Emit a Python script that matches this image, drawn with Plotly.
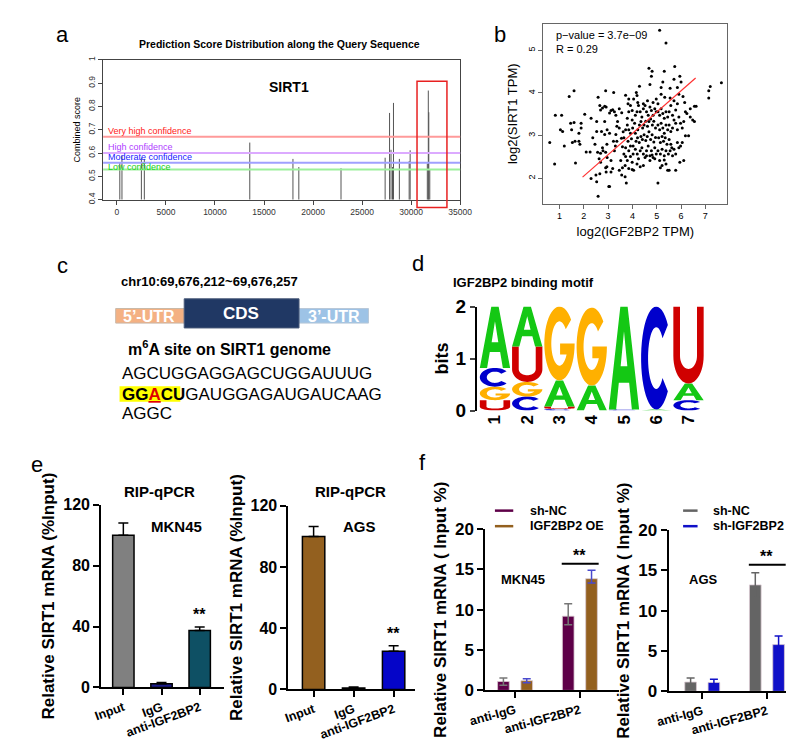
import numpy as np
import plotly.graph_objects as go

# ---- panel a: RMBase-like prediction scores along SIRT1
site_pos = [300, 520, 2500, 2800, 13550, 17950, 18550, 22850, 27350, 27800, 27950, 28100,
            28200, 28800, 29800, 29900, 31650, 31750, 31800, 31900]
site_score = [0.56, 0.59, 0.58, 0.575, 0.645, 0.575, 0.54, 0.535, 0.58, 0.772, 0.614, 0.54,
              0.815, 0.575, 0.565, 0.612, 0.555, 0.868, 0.775, 0.53]
conf_names = ['Very high confidence', 'High confidence', 'Moderate confidence', 'Low confidence']
conf_levels = [0.67, 0.60, 0.558, 0.53]
conf_label_y = [0.696, 0.625, 0.583, 0.542]
conf_colors = ['#ff9a9a', '#dcaaff', '#a0a0ff', '#9cf09c']
conf_text_colors = ['#ff2020', '#b040ff', '#2020ff', '#20d020']

# ---- panel b: correlation scatter
igf2bp2_tpm = [5.12, 5.38, 4.68, 4.81, 5.31, 5.74, 5.95, 4.78, 5.71, 6.0, 4.29, 4.72, 5.25, 7.66, 7.2,
               7.14, 7.14, 1.6, 1.4, 2.9, 3.23, 2.59, 3.72, 4.16, 4.19, 5.18, 5.55, 5.85, 5.91, 6.08,
               6.15, 6.55, 6.62, 6.38,
               0.83, 1.09, 0.6, 0.8, 1.04, 1.13, 1.2, 1.46, 1.6, 1.5, 1.8, 1.89, 1.89, 1.8, 1.53, 1.64,
               1.84, 1.66, 2.04, 2.3, 2.1, 2.26, 2.37, 2.3, 2.53, 2.5, 2.53, 2.53, 2.46, 2.57, 2.59, 2.69,
               2.63, 2.73, 2.77, 2.79, 2.66, 2.69,
               2.66, 2.69, 2.77, 2.86, 2.92, 3.06, 3.12, 3.19, 3.26, 3.32, 3.46, 3.56, 2.86, 2.96, 2.86,
               3.06, 2.95, 2.9, 2.96, 2.9, 2.95, 2.92, 3.03, 3.06, 3.12, 3.19, 3.12, 3.26, 3.3, 3.22,
               3.36, 3.32, 3.36, 3.46, 3.39, 3.52, 3.46, 3.56, 3.7, 3.75, 3.59, 3.7, 3.65, 3.72, 3.65,
               3.72, 3.79, 3.79, 3.85, 3.92, 3.82, 3.85, 3.99, 3.85, 3.92, 3.82, 3.92, 3.85, 3.92, 3.79,
               3.99, 3.85, 3.99, 3.72, 3.59, 3.55, 3.62, 3.99, 4.01, 3.96, 4.03, 4.03, 4.05,
               4.09, 4.12, 4.19, 4.25, 4.32, 4.39, 4.45, 4.52, 4.58, 4.65, 4.72, 4.78, 4.85, 4.92, 4.98,
               4.12, 4.22, 4.29, 4.35, 4.42, 4.48, 4.55, 4.62, 4.68, 4.75, 4.82, 4.88, 4.95,
               4.15, 4.21, 4.28, 4.35, 4.41, 4.48, 4.55, 4.61, 4.68, 4.75, 4.81, 4.88, 4.95,
               4.12, 4.2, 4.25, 4.32, 4.39, 4.45, 4.52, 4.58, 4.65, 4.72, 4.78, 4.85, 4.92, 4.98,
               4.19, 4.32, 4.45, 4.58, 4.72, 4.81, 4.92, 4.05, 4.22, 4.45, 4.62, 4.85, 4.98, 5.05,
               5.05, 5.12, 5.18, 5.25, 5.31, 5.38, 5.45, 5.51, 5.58, 5.65, 5.71,
               5.05, 5.12, 5.18, 5.25, 5.31, 5.38, 5.45, 5.51, 5.58, 5.65,
               5.08, 5.15, 5.22, 5.28, 5.35, 5.42, 5.51, 5.58,
               5.05, 5.15, 5.22, 5.31, 5.38, 5.48, 5.55, 5.62,
               5.12, 5.22, 5.31, 5.38, 5.45, 5.51, 5.78, 5.05, 5.15,
               5.78, 5.85, 5.91, 5.98, 6.05, 6.11, 6.18, 6.24, 5.85, 5.91, 5.98, 6.05, 6.11, 5.95,
               6.18, 6.31, 6.48, 6.55, 6.38, 5.78, 5.85, 5.71, 5.55, 5.33, 5.18, 5.71, 5.78, 5.65]
sirt1_tpm = [5.47, 5.17, 4.58, 4.51, 4.51, 4.62, 4.39, 4.39, 4.32, 4.26, 4.16, 4.2, 4.26, 4.24, 4.15,
             4.05, 3.88, 4.05, 3.92, 4.05, 4.01, 3.9, 3.95, 4.01, 3.94, 4.13, 4.11, 4.13, 3.97, 3.92,
             3.78, 3.69, 3.69, 3.63,
             3.48, 3.48, 2.84, 2.34, 3.14, 3.1, 2.76, 3.29, 3.31, 3.14, 3.06, 3.29, 3.18, 2.87, 2.84, 2.87,
             2.8, 2.36, 3.5, 3.41, 2.62, 2.62, 2.95, 2.0, 1.92, 2.08, 3.33, 3.1, 2.8, 2.61, 1.58, 2.59,
             2.46, 3.1, 2.72, 2.65, 2.11, 2.38,
             3.71, 3.6, 3.65, 3.69, 3.67, 3.53, 3.59, 3.61, 3.56, 3.48, 3.63, 3.54, 3.33, 3.14, 3.03,
             3.06, 2.8, 2.61, 2.49, 2.25, 2.27, 2.15, 1.81, 1.81, 2.42, 2.23, 2.15, 2.65, 2.76, 2.87,
             2.87, 3.03, 3.22, 3.18, 3.33, 2.42, 2.19, 2.08, 2.04, 1.89, 2.25, 2.3, 2.57, 2.72, 2.95,
             3.14, 3.25, 3.41, 3.56, 3.71, 3.75, 3.86, 3.59, 3.14, 3.06, 2.87, 2.76, 2.65, 2.51, 2.42,
             2.38, 2.23, 2.21, 2.51, 2.74, 2.94, 3.09, 3.37, 3.18, 2.93, 2.76, 2.57, 2.19,
             3.29, 3.48, 3.56, 3.71, 3.56, 3.44, 3.63, 3.71, 3.56, 3.48, 3.67, 3.59, 3.48, 3.63, 3.56,
             3.06, 3.14, 3.25, 3.33, 3.18, 3.25, 3.34, 3.22, 3.33, 3.39, 3.25, 3.34, 3.18,
             2.87, 2.95, 2.84, 2.98, 2.91, 3.02, 2.89, 2.98, 3.09, 2.91, 3.02, 2.85, 2.96,
             2.68, 2.57, 2.46, 2.65, 2.72, 2.57, 2.49, 2.65, 2.76, 2.53, 2.65, 2.49, 2.72, 2.57,
             2.34, 2.27, 2.3, 2.53, 2.42, 2.55, 2.46, 3.86, 3.78, 3.75, 3.82, 3.78, 3.86, 3.75,
             3.56, 3.48, 3.63, 3.52, 3.41, 3.56, 3.44, 3.56, 3.71, 3.48, 3.37,
             3.25, 3.14, 3.29, 3.18, 3.06, 3.25, 3.14, 3.25, 3.1, 3.18,
             2.95, 2.84, 2.98, 2.87, 2.95, 2.8, 2.91, 2.8,
             2.65, 2.57, 2.68, 2.53, 2.65, 2.57, 2.65, 2.72,
             2.42, 2.3, 2.43, 2.34, 2.19, 2.19, 2.19, 1.89, 2.25,
             3.29, 3.14, 3.44, 3.29, 3.18, 3.33, 3.56, 3.52, 2.84, 2.72, 2.76, 2.84, 2.42, 2.38,
             3.0, 3.0, 3.37, 3.33, 3.44, 3.6, 3.75, 3.82, 3.88, 3.9, 3.97, 2.68, 2.57, 2.53]
fit_x = [1.95, 6.6]
fit_y = [2.03, 4.35]

# ---- panel d: IGF2BP2 motif (bottom to top per position)
motif_letters = [['U', 'G', 'C', 'A'], ['C', 'G', 'U', 'A'], ['C', 'U', 'A', 'G'], ['A', 'G'],
                 ['C', 'A'], ['A', 'C'], ['C', 'A', 'U']]
motif_bits = [[0.2, 0.26, 0.36, 1.18], [0.27, 0.28, 0.68, 0.77], [0.03, 0.05, 0.5, 1.42], [0.48, 1.5],
              [0.02, 1.98], [0.02, 1.98], [0.2, 0.32, 1.48]]
letter_colors = {'A': '#14c814', 'C': '#0000cc', 'G': '#ffb000', 'U': '#d00000'}

# ---- panel e: RIP-qPCR
rip_groups = ['Input', 'IgG', 'anti-IGF2BP2']
rip_mkn45 = [100, 2.5, 37.5]
rip_mkn45_err = [8, 0.8, 2.3]
rip_ags = [100, 1.0, 25]
rip_ags_err = [6.5, 0.6, 3.5]

# ---- panel f
f_groups = ['anti-IgG', 'anti-IGF2BP2']
f_left_names = ['sh-NC', 'IGF2BP2 OE']
f_left_vals = [[1.1, 9.2], [1.2, 13.85]]
f_left_up = [[0.45, 1.55], [0.25, 1.05]]
f_left_down = [[0.45, 1.05], [0.25, 0.55]]
f_right_names = ['sh-NC', 'sh-IGF2BP2']
f_right_vals = [[1.15, 13.2], [1.1, 5.8]]
f_right_up = [[0.5, 1.5], [0.4, 1.05]]
f_right_down = [[0.5, 1.5], [0.4, 1.05]]

W, H = 800, 741
FONT = 'Arial, Liberation Sans, sans-serif'


def px(x):
    return x / W


def py(y):
    return 1 - y / H


fig = go.Figure()
shapes = []
ann = []


def label(x, y, text, size=12, bold=False, color='black', xanchor='center', angle=0, **kw):
    a = dict(x=px(x), y=py(y), xref='paper', yref='paper', text=text, showarrow=False,
             xanchor=xanchor, yanchor='middle', textangle=angle,
             font=dict(size=size, color=color, family=FONT, weight='bold' if bold else 'normal'))
    a.update(kw)
    ann.append(a)


# panel letters
for (lx, ly, t) in [(40, 17, 'a'), (493, 17, 'b'), (40, 255, 'c'), (408, 253, 'd'), (13, 460, 'e'),
                    (413, 457, 'f')]:
    label(lx, ly, t, size=22)

# ---------------- panel a
sx, sy = [], []
for p, s in zip(site_pos, site_score):
    sx += [p, p, None]
    sy += [0.4, s, None]
fig.add_trace(go.Scatter(x=sx, y=sy, mode='lines', line=dict(color='#555', width=1),
                         xaxis='x', yaxis='y', hoverinfo='skip'))
for lvl, ly, nm, c, tc in zip(conf_levels, conf_label_y, conf_names, conf_colors, conf_text_colors):
    shapes.append(dict(type='line', xref='x domain', yref='y', x0=0, x1=1, y0=lvl, y1=lvl,
                       line=dict(color=c, width=2)))
    ann.append(dict(x=-1100, y=ly, xref='x', yref='y', text=nm, showarrow=False, xanchor='left',
                    font=dict(size=9, color=tc, family='Liberation Sans Narrow, Arial Narrow, ' + FONT)))
ann.append(dict(x=17500, y=0.883, xref='x', yref='y', text='<b>SIRT1</b>', showarrow=False,
                font=dict(size=14, family=FONT)))
shapes.append(dict(type='rect', xref='x', yref='paper', x0=30600, x1=33650, y0=py(195), y1=py(65),
                   line=dict(color='#e82020', width=1.5)))
label(265, 27, 'Prediction Score Distribution along the Query Sequence', size=10.5, bold=True)

# ---------------- panel b
fig.add_trace(go.Scatter(x=igf2bp2_tpm, y=sirt1_tpm, mode='markers',
                         marker=dict(color='black', size=3), xaxis='x2', yaxis='y2'))
fig.add_trace(go.Scatter(x=fit_x, y=fit_y, mode='lines', line=dict(color='#ff3030', width=1.2),
                         xaxis='x2', yaxis='y2'))
ann.append(dict(x=0.06, y=0.985, xref='x2 domain', yref='y2 domain', xanchor='left', yanchor='top',
                showarrow=False, align='left', text='p\u2212value = 3.7e\u221209<br>R = 0.29',
                font=dict(size=11, family=FONT)))

# ---------------- panel c
label(98, 271, 'chr10:69,676,212~69,676,257', size=13, bold=True, xanchor='left')
shapes.append(dict(type='rect', xref='paper', yref='paper', x0=px(95), x1=px(166), y0=py(314), y1=py(299),
                   fillcolor='#f4b183', line=dict(color='#c9b8a8', width=1)))
shapes.append(dict(type='rect', xref='paper', yref='paper', x0=px(285), x1=px(357), y0=py(314), y1=py(299),
                   fillcolor='#9dc3e6', line=dict(color='#b8c8d8', width=1)))
shapes.append(dict(type='rect', xref='paper', yref='paper', x0=px(166), x1=px(285), y0=py(319), y1=py(289),
                   fillcolor='#203864', line=dict(color='#4a5a7a', width=1)))
label(130, 307, '5\u2019-UTR', size=16, bold=True, color='white')
label(225, 304, 'CDS', size=17, bold=True, color='white')
label(321, 307, '3\u2019-UTR', size=16, bold=True, color='white')
label(213, 340, 'm<sup>6</sup>A site on SIRT1 genome', size=16, bold=True)
shapes.append(dict(type='rect', xref='paper', yref='paper', x0=px(99), x1=px(162), y0=py(395), y1=py(379),
                   fillcolor='#ffff00', line=dict(width=0), layer='below'))
label(99, 366, 'AGCUGGAGGAGCUGGAUUUG', size=17, xanchor='left')
label(99, 387, "<b>GG<span style='color:#e00000;text-decoration:underline'>A</span>CU</b>GAUGGAGAUGAUCAAG",
      size=17, xanchor='left')
label(99, 407, 'AGGC', size=17, xanchor='left')

# ---------------- panel d: sequence logo drawn as glyph paths
def glyph(letter):
    """Outline polygons of a letter in the unit square."""
    if letter == 'A':
        return [[(0, 0), (0.38, 1), (0.62, 1), (1, 0), (0.76, 0), (0.67, 0.26), (0.33, 0.26), (0.24, 0)],
                [(0.39, 0.42), (0.61, 0.42), (0.5, 0.76)]]
    if letter == 'U':
        t = np.linspace(np.pi, 2 * np.pi, 25)
        outer = [(0.5 + 0.5 * np.cos(a), 0.36 + 0.36 * np.sin(a)) for a in t]
        inner = [(0.5 + 0.28 * np.cos(a), 0.36 + 0.17 * np.sin(a)) for a in t[::-1]]
        return [[(0, 1)] + outer + [(1, 1), (0.78, 1)] + inner + [(0.22, 1)]]
    if letter == 'C':
        t = np.radians(np.linspace(40, 320, 40))
        outer = [(0.5 + 0.5 * np.cos(a), 0.5 + 0.5 * np.sin(a)) for a in t]
        inner = [(0.5 + 0.27 * np.cos(a), 0.5 + 0.3 * np.sin(a)) for a in t[::-1]]
        return [outer + inner]
    t = np.radians(np.linspace(40, 360, 44))
    outer = [(0.5 + 0.5 * np.cos(a), 0.5 + 0.5 * np.sin(a)) for a in t]
    ti = np.radians(np.linspace(330, 40, 40))
    inner = [(0.5 + 0.27 * np.cos(a), 0.5 + 0.3 * np.sin(a)) for a in ti]
    return [outer + [(0.52, 0.5), (0.52, 0.35)] + inner]


for i, (letters, bits) in enumerate(zip(motif_letters, motif_bits)):
    xc = i + 1
    base = 0.0
    for let, h in zip(letters, bits):
        path = ''
        for poly in glyph(let):
            pts = [(xc - 0.47 + 0.94 * u, base + h * v) for u, v in poly]
            path += 'M' + 'L'.join(f'{a:.4f},{b:.4f}' for a, b in pts) + 'Z'
        shapes.append(dict(type='path', xref='x3', yref='y3', path=path, fillcolor=letter_colors[let],
                           fillrule='evenodd', line=dict(width=0)))
        base += h
fig.add_trace(go.Scatter(x=[1, 7], y=[0, 0], mode='markers', marker=dict(opacity=0),
                         xaxis='x3', yaxis='y3', hoverinfo='skip'))
label(443, 272, 'IGF2BP2 binding motif', size=13, bold=True, xanchor='left')

# ---------------- panel e
e_colors_mkn = ['#808080', '#1c1c8a', '#0e5064']
e_colors_ags = ['#93601f', '#1c1c8a', '#0505c8']
for ax, vals, errs, cols in [('4', rip_mkn45, rip_mkn45_err, e_colors_mkn),
                             ('5', rip_ags, rip_ags_err, e_colors_ags)]:
    fig.add_trace(go.Bar(x=[0, 1, 2], y=vals, width=0.56, marker=dict(color=cols, line=dict(color='black', width=1.5)),
                         error_y=dict(type='data', array=errs, arrayminus=[0, 0, 0], symmetric=False,
                                      color='black', thickness=1.5, width=5),
                         xaxis='x' + ax, yaxis='y' + ax))
    ann.append(dict(x=2, y=vals[2] + errs[2], xref='x' + ax, yref='y' + ax, text='<b>**</b>', showarrow=False,
                    yanchor='bottom', yshift=2, font=dict(size=16, family=FONT)))
label(140, 487, 'RIP-qPCR', size=15, bold=True)
label(338, 487, 'RIP-qPCR', size=15, bold=True)
label(158, 523, 'MKN45', size=15, bold=True)
label(348, 523, 'AGS', size=15, bold=True)

# ---------------- panel f
f_sets = [('6', f_left_names, f_left_vals, f_left_up, f_left_down, ['#5e0048', '#93601f'], ['#777777', '#4a4acd']),
          ('7', f_right_names, f_right_vals, f_right_up, f_right_down, ['#646464', '#1010c8'], ['#646464', '#1010c8'])]
for ax, names, vals, up, down, cols, ecols in f_sets:
    for j in range(2):
        fig.add_trace(go.Bar(x=[0, 1], y=vals[j], width=0.18, offset=-0.27 + 0.36 * j, name=names[j],
                             marker=dict(color=cols[j], line=dict(color='#d8c8d0', width=0.8)),
                             error_y=dict(type='data', array=up[j], arrayminus=down[j], symmetric=False,
                                          color=ecols[j], thickness=1.5, width=4),
                             xaxis='x' + ax, yaxis='y' + ax))
    shapes.append(dict(type='line', xref='x' + ax, yref='y' + ax, x0=0.72, x1=1.29, y0=15.7, y1=15.7,
                       line=dict(color='black', width=2)))
    ann.append(dict(x=1.0, y=15.7, xref='x' + ax, yref='y' + ax, text='<b>**</b>', showarrow=False,
                    yanchor='bottom', yshift=-2, font=dict(size=16, family=FONT)))

for (lx0, lx1, tx), names, cols in [((488, 507, 522), f_left_names, ['#5e0048', '#93601f']),
                                    ((683, 698, 712), f_right_names, ['#646464', '#1010c8'])]:
    for j, yy in enumerate([507, 523]):
        shapes.append(dict(type='line', xref='paper', yref='paper', x0=px(lx0), x1=px(lx1), y0=py(yy), y1=py(yy),
                           line=dict(color=cols[j], width=2.5)))
        label(tx, yy, names[j], size=12.5, bold=True, xanchor='left')
label(492, 578, 'MKN45', size=13, bold=True, xanchor='left')
label(687, 578, 'AGS', size=13, bold=True, xanchor='left')

# ---------------- axes
r_tick = dict(size=8.5, color='#333', family=FONT)
bold = lambda s: dict(size=s, family=FONT, color='black', weight='bold')
common_gp = dict(showgrid=False, zeroline=False, showline=True, linecolor='black', linewidth=2,
                 ticks='outside', tickwidth=2, ticklen=6, tickcolor='black')

layout = dict(
    width=W, height=H, margin=dict(l=0, r=0, t=0, b=0), showlegend=False,
    plot_bgcolor='white', paper_bgcolor='white', font=dict(family=FONT, color='black'),
    barmode='overlay',
    xaxis=dict(domain=[px(82), px(452)], range=[-1400, 35000], tickvals=list(range(0, 35001, 5000)),
               tickformat='d', showgrid=False, zeroline=False, showline=True, mirror=True,
               linecolor='#444', linewidth=1,
               ticks='outside', ticklen=4, tickcolor='#444', tickfont=r_tick, anchor='y'),
    yaxis=dict(domain=[py(187), py(43)], range=[0.4, 1.0], tickvals=[0.4, 0.5, 0.6, 0.7, 0.8, 0.9, 1.0],
               ticktext=['0.4', '0.5', '0.6', '0.7', '0.8', '0.9', '1'], tickangle=-90,
               showgrid=False, zeroline=False, showline=True, mirror=True, linecolor='#444', linewidth=1,
               ticks='outside', ticklen=4, tickcolor='#444', tickfont=r_tick, anchor='x',
               title=dict(text='Combined score', font=dict(size=9, family=FONT), standoff=4)),
    xaxis2=dict(domain=[px(538), px(729)], range=[0.33, 7.91], tickvals=[1, 2, 3, 4, 5, 6, 7],
                showgrid=False, zeroline=False, showline=True, mirror=True, linecolor='#666', linewidth=1,
                ticks='outside', ticklen=4, tickcolor='#666', tickfont=dict(size=9, family=FONT), anchor='y2',
                title=dict(text='log2(IGF2BP2 TPM)', font=dict(size=13, family=FONT), standoff=6)),
    yaxis2=dict(domain=[py(191), py(6)], range=[1.41, 5.62], tickvals=[2, 3, 4, 5], tickangle=-90,
                showgrid=False, zeroline=False, showline=True, mirror=True, linecolor='#666', linewidth=1,
                ticks='outside', ticklen=4, tickcolor='#666', tickfont=dict(size=9, family=FONT), anchor='x2',
                title=dict(text='log2(SIRT1 TPM)', font=dict(size=13, family=FONT), standoff=6)),
    xaxis3=dict(domain=[px(469), px(712)], range=[0.43, 7.7], tickvals=[1, 2, 3, 4, 5, 6, 7], tickangle=-90,
                showgrid=False, zeroline=False, showline=False, ticks='', tickfont=bold(17), anchor='y3'),
    yaxis3=dict(domain=[py(404), py(297)], range=[0, 2], tickvals=[0, 1, 2], tickfont=bold(19),
                showgrid=False, zeroline=False, showline=True, linecolor='black', linewidth=1.5,
                ticks='outside', ticklen=5, tickwidth=1.5, anchor='x3',
                title=dict(text='bits', font=bold(18), standoff=2)),
    xaxis4=dict(domain=[px(80), px(207)], range=[-0.58, 2.63], tickvals=[0, 1, 2], ticktext=rip_groups,
                tickangle=-20, tickfont=bold(12.5), anchor='y4', **common_gp),
    yaxis4=dict(domain=[py(689), py(501)], range=[0, 120], tickvals=[0, 40, 80, 120], tickfont=bold(16),
                anchor='x4', title=dict(text='Relative SIRT1 mRNA (%Input)', font=bold(17), standoff=4),
                **common_gp),
    xaxis5=dict(domain=[px(274), px(405)], range=[-0.63, 2.53], tickvals=[0, 1, 2], ticktext=rip_groups,
                tickangle=-20, tickfont=bold(12.5), anchor='y5', **common_gp),
    yaxis5=dict(domain=[py(691), py(502)], range=[0, 120], tickvals=[0, 40, 80, 120], tickfont=bold(16),
                anchor='x5', title=dict(text='Relative SIRT1 mRNA (%Input)', font=bold(17), standoff=4),
                **common_gp),
    xaxis6=dict(domain=[px(478), px(617)], range=[-0.46, 1.61], tickvals=[0, 1], ticktext=f_groups,
                tickangle=-15, tickfont=bold(12.5), anchor='y6', **common_gp),
    yaxis6=dict(domain=[py(692), py(526)], range=[0, 20], tickvals=[0, 5, 10, 15, 20], tickfont=bold(17),
                anchor='x6', title=dict(text='Relative SIRT1 mRNA ( Input %)', font=bold(17), standoff=4),
                **common_gp),
    xaxis7=dict(domain=[px(668), px(790)], range=[-0.52, 1.3], tickvals=[0, 1], ticktext=f_groups,
                tickangle=-15, tickfont=bold(12.5), anchor='y7', **common_gp),
    yaxis7=dict(domain=[py(693), py(527)], range=[0, 20], tickvals=[0, 5, 10, 15, 20], tickfont=bold(17),
                anchor='x7', title=dict(text='Relative SIRT1 mRNA ( Input %)', font=bold(17), standoff=4),
                **common_gp),
    shapes=shapes,
    annotations=ann,
)
fig.update_layout(**layout)
fig.write_html('out.html')
